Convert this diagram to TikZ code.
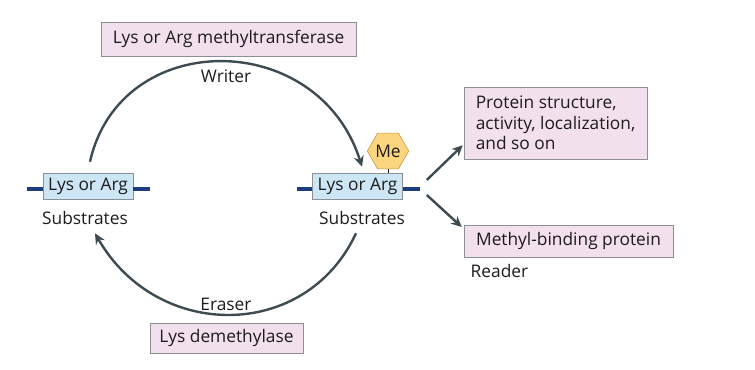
\documentclass[tikz,border=0pt]{standalone}
\usepackage{fontspec}
\setmainfont{Open Sans}
\usepackage{xcolor}
\usepackage{tikz}
\usetikzlibrary{shapes.geometric, arrows.meta, positioning, calc}
\definecolor{boxblue}{HTML}{CDE6F5}
\definecolor{boxpink}{HTML}{F2E1EC}
\definecolor{boxedge}{HTML}{8C8F93}
\definecolor{barblue}{HTML}{1B3F7C}
\definecolor{hexfill}{HTML}{FCD67E}
\definecolor{hexedge}{HTML}{C8923A}
\definecolor{arrowdark}{HTML}{3E4B53}
\definecolor{txtdark}{HTML}{1E1B1C}
\newcommand\figfont{\fontsize{13pt}{15.4pt}\selectfont}
\tikzset{
  substrat/.style={rectangle, draw=boxedge, fill=boxblue, minimum width=67.5pt, minimum height=19.5pt, inner sep=0pt, text=txtdark},
  enzyme/.style={rectangle, draw=boxedge, fill=boxpink, minimum height=23pt, inner xsep=5pt, text=txtdark},
  bar/.style={line width=2.6pt, draw=barblue},
  methyl/.style={regular polygon, regular polygon sides=6, minimum size=26pt, inner sep=0pt, draw=hexedge, fill=hexfill, text=txtdark},
  arrow/.style={line width=1.8pt, ->, >={Stealth[length=8pt,width=7.5pt]}, color=arrowdark},
  caption/.style={text=txtdark}
}

\begin{document}
\begin{tikzpicture}[x=0.75pt, y=-0.75pt, font=\figfont]
  \useasboundingbox (0,0) rectangle (755,370);
  % substrates
  \node (lsub) [substrat] at (88,186) {Lys or Arg};
  \node (rsub) [substrat] at (357.5,186) {Lys or Arg};
  \node (ltxt) [caption] at (85,218) {Substrates};
  \node (rtxt) [caption] at (362,218) {Substrates};
  \draw [bar] ([shift={(0,3)}]lsub.west) -- ++(-16,0);
  \draw [bar] ([shift={(0,3)}]lsub.east) -- ++(17,0);
  \draw [bar] ([shift={(0,3)}]rsub.west) -- ++(-15,0);
  \draw [bar] ([shift={(0,3)}]rsub.east) -- ++(17,0);
  \node (me) [methyl] at (388,151) {Me};
  \draw [txtdark, line width=0.6pt] (me.south) -- (me.south |- rsub.north);
  % enzymes
  \node (mt) [enzyme, minimum width=191.25pt, minimum height=25.5pt] at (228.5,39) {Lys or Arg methyltransferase};
  \node (dm) [enzyme, minimum width=114.75pt, minimum height=22.5pt] at (226.5,338) {Lys demethylase};
  \node (writer) [caption] at (226,76) {Writer};
  \node (eraser) [caption] at (226,304) {Eraser};
  % outcomes
  \node (fx) [enzyme, align=left, minimum width=137.25pt, minimum height=54pt] at (555.5,123) {Protein structure,\\ activity, localization,\\ and so on};
  \node (mb) [enzyme, minimum width=156.75pt, minimum height=24pt] at (568.5,241) {Methyl-binding protein};
  \node (reader) [caption, anchor=west] at (466,271) {Reader};
  % cycle
  \draw [arrow] ([shift={(2,-11)}]lsub.north) .. controls +(30,-134) and +(-44,-139) .. ([shift={(4.5,-6)}]rsub.north);
  \draw [arrow] ([shift={(-1.5,34)}]rsub.south) .. controls +(-50,108) and +(62,108) .. ([shift={(7,34)}]lsub.south);
  \draw [arrow] ([shift={(24,-6)}]rsub.east) -- ([shift={(-1,-14)}]fx.south west);
  \draw [arrow] ([shift={(24,9)}]rsub.east) -- ([shift={(-2,-14)}]mb.west);
\end{tikzpicture}
\end{document}
